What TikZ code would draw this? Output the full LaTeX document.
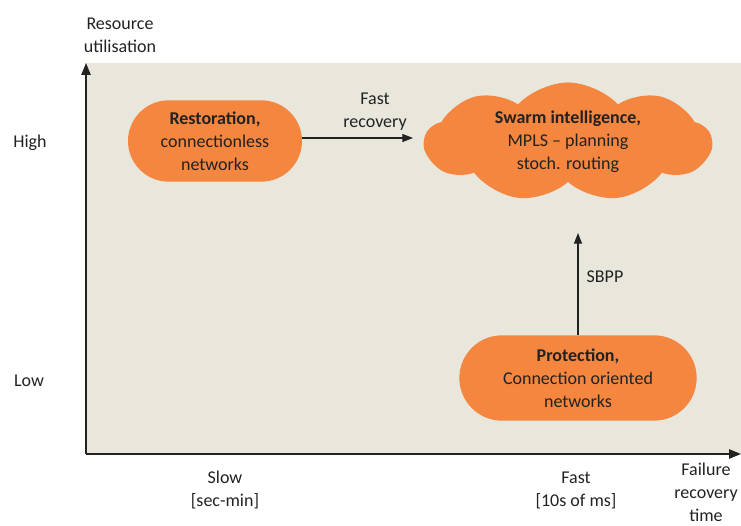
\documentclass[tikz,border=0pt]{standalone}
\usepackage{fontspec}
\setmainfont{Carlito}
\usetikzlibrary{shapes.misc, shapes.symbols, arrows.meta}
\definecolor{sand}{HTML}{E9E6DC}
\definecolor{tangerine}{HTML}{F4863F}
\definecolor{ink}{HTML}{222222}

\begin{document}
\begin{tikzpicture}[x=0.75pt, y=0.75pt, text=ink,
    font=\fontsize{13.5}{17.3}\selectfont,
    pill/.style={rounded rectangle, fill=tangerine, align=center, inner sep=0pt},
    puff/.style={cloud, cloud puffs=9, cloud puff arc=95, aspect=2.8,
      fill=tangerine, align=center, inner sep=0pt},
    axis/.style={-{Triangle[length=9pt, width=7pt]}, line width=1.1pt, draw=ink},
    link/.style={-{Triangle[length=8pt, width=6pt]}, line width=0.8pt, draw=ink},
    lbl/.style={align=center}]
    \useasboundingbox (0,0) rectangle (741,525);
    \fill[sand] (86,71) rectangle (741,462);

    % axes
    \coordinate (origin) at (86,71);
    \coordinate (ytip) at (86,462);
    \coordinate (xtip) at (741,71);
    \draw[axis] (origin) -- (ytip);
    \draw[axis] (origin) -- (xtip);

    % axis texts
    \node[lbl] (ytitle) at (120,490) {Resource\\utilisation};
    \node[lbl] (high) at (30,382) {High};
    \node[lbl] (low) at (29,144) {Low};
    \node[lbl] (slow) at (225,35) {Slow\\{[sec-min]}};
    \node[lbl] (fast) at (576,35) {Fast\\{[10s of ms]}};
    \node[lbl] (xtitle) at (706,33) {Failure\\recovery\\time};

    % the three approaches
    \node[pill, minimum width=130.5pt, minimum height=61pt] (resto) at (215,384)
      {\textbf{Restoration,}\\connectionless\\networks};
    \node[puff, minimum width=215pt, minimum height=76pt] (swarm) at (568,383)
      {\textbf{Swarm intelligence,}\\MPLS -- planning\\stoch. routing};
    \node[pill, minimum width=178pt, minimum height=64pt] (protect) at (578,147)
      {\textbf{Protection,}\\Connection oriented\\networks};

    % transitions
    \coordinate (fastend) at (413,387);
    \coordinate (sbppend) at (578,292);
    \draw[link] (resto.east |- fastend) -- (fastend);
    \draw[link] (protect.north) -- (sbppend);
    \node[lbl] (fastlbl) at (375,413) {Fast\\recovery};
    \node[lbl] (sbpp) at (605,248) {SBPP};
\end{tikzpicture}
\end{document}
